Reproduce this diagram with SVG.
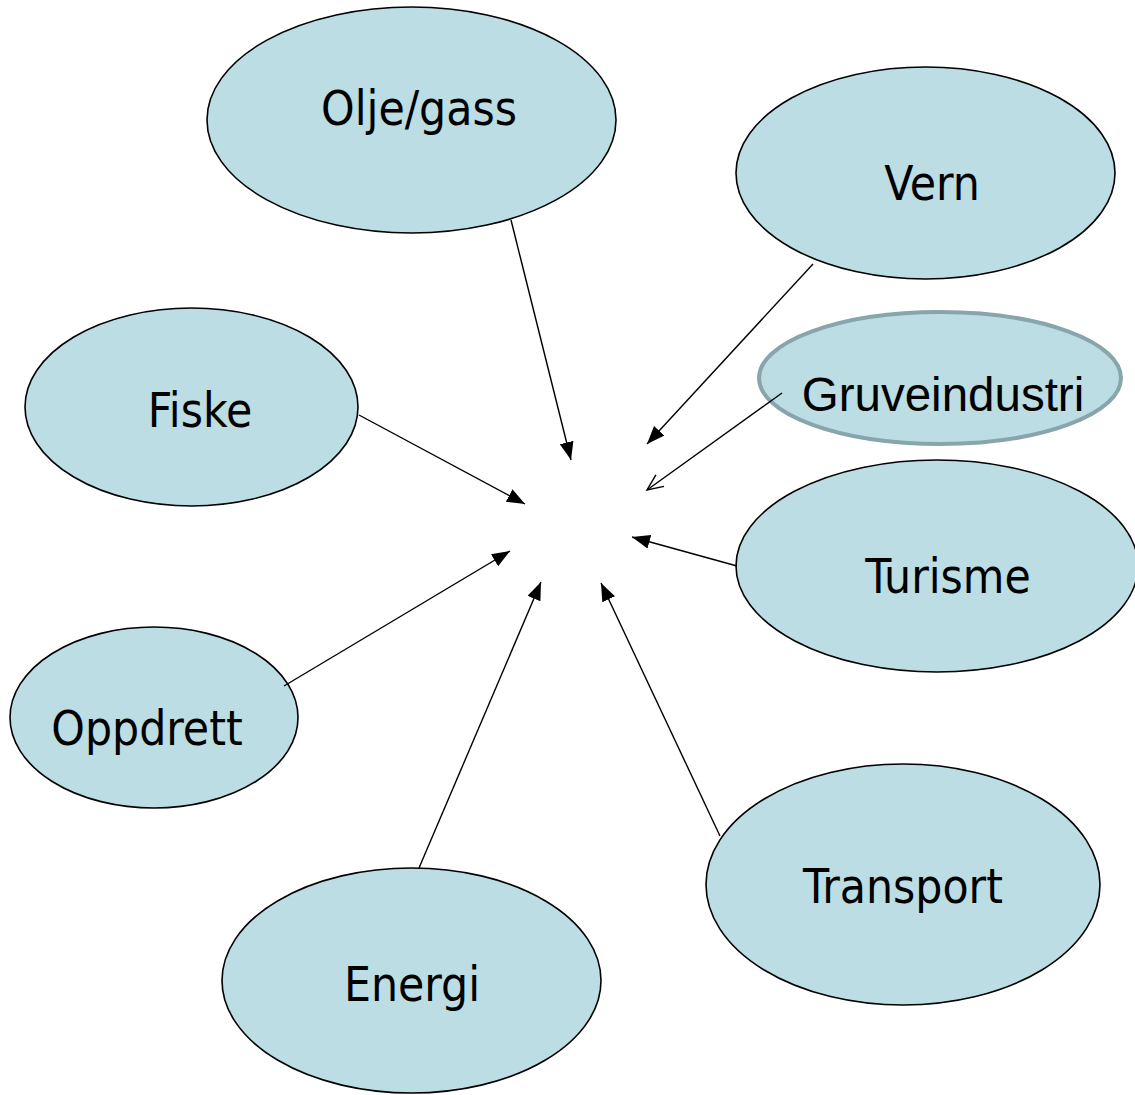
<svg xmlns="http://www.w3.org/2000/svg" width="1135" height="1095" viewBox="0 0 1135 1095">
<style>
.node ellipse { fill: #bbdde3; stroke: #000; stroke-width: 1.6; }
.node text { font-family: "DejaVu Sans Condensed", "Liberation Sans", sans-serif; font-stretch: condensed; font-size: 47.5px; fill: #000; text-anchor: middle; }
#gruveindustri ellipse { stroke: #87a5aa; stroke-width: 4; }
#gruveindustri text { font-family: "Liberation Sans", Arial, sans-serif; font-stretch: normal; font-size: 47.5px; }
.edges line { stroke: #000; stroke-width: 1.4; fill: none; }
</style>
<defs>
<marker id="arrow" markerUnits="userSpaceOnUse" markerWidth="20" markerHeight="16" refX="18" refY="7" orient="auto">
<path d="M0,0 L18,7 L0,14 Z" fill="#000"/>
</marker>
<marker id="open" markerUnits="userSpaceOnUse" markerWidth="20" markerHeight="18" refX="17" refY="8" orient="auto">
<path d="M1,1 L17,8 L1,15" fill="none" stroke="#000" stroke-width="1.4"/>
</marker>
</defs>
<g id="olje-gass" class="node"><ellipse cx="411.5" cy="120" rx="204.5" ry="113"/><text x="419" y="125">Olje/gass</text></g>
<g id="vern" class="node"><ellipse cx="925.5" cy="173" rx="189.5" ry="106"/><text x="932" y="200">Vern</text></g>
<g id="gruveindustri" class="node"><ellipse cx="940" cy="378" rx="181" ry="66"/><text x="943" y="411">Gruveindustri</text></g>
<g id="fiske" class="node"><ellipse cx="191.5" cy="407" rx="166.5" ry="99"/><text x="200" y="427">Fiske</text></g>
<g id="turisme" class="node"><ellipse cx="937" cy="566" rx="201" ry="106"/><text x="948" y="593">Turisme</text></g>
<g id="oppdrett" class="node"><ellipse cx="154" cy="717.5" rx="144" ry="90.5"/><text x="147" y="745">Oppdrett</text></g>
<g id="transport" class="node"><ellipse cx="903" cy="884.5" rx="197" ry="120.5"/><text x="903" y="903">Transport</text></g>
<g id="energi" class="node"><ellipse cx="411.5" cy="980.5" rx="189.5" ry="112.5"/><text x="412" y="1001">Energi</text></g>
<g id="connectors" class="edges">
<line x1="511" y1="220" x2="571" y2="460" marker-end="url(#arrow)"/>
<line x1="813" y1="264" x2="647" y2="444" marker-end="url(#arrow)"/>
<line x1="782" y1="393" x2="647" y2="490" marker-end="url(#open)"/>
<line x1="359" y1="415" x2="525" y2="504" marker-end="url(#arrow)"/>
<line x1="737" y1="566" x2="632" y2="537" marker-end="url(#arrow)"/>
<line x1="284" y1="686" x2="510" y2="551" marker-end="url(#arrow)"/>
<line x1="419" y1="868" x2="541" y2="582" marker-end="url(#arrow)"/>
<line x1="720" y1="836" x2="601" y2="583" marker-end="url(#arrow)"/>
</g>
</svg>
